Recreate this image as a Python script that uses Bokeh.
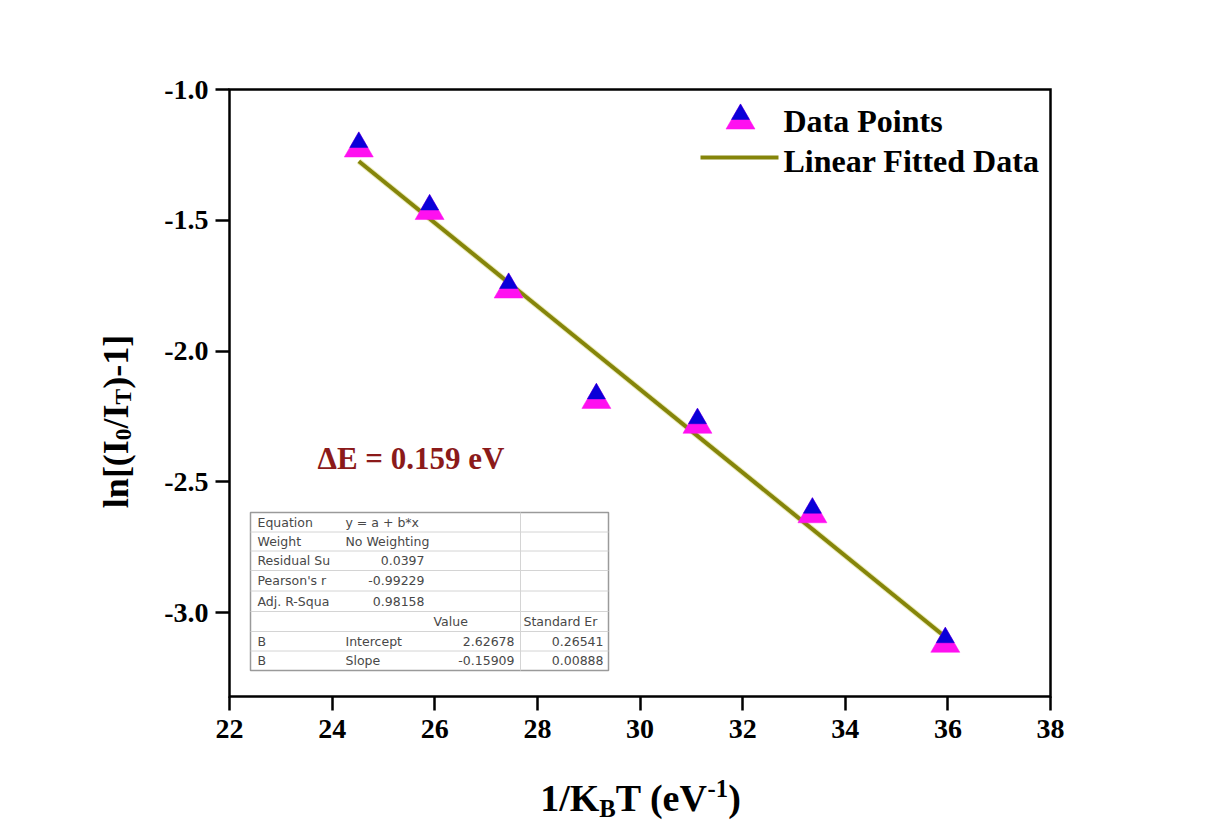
import math
from bokeh.plotting import figure
from bokeh.models import Label, Range1d, ColumnDataSource, FixedTicker
from bokeh.core.properties import value
from bokeh.embed import file_html
from bokeh.resources import INLINE

# ---- data -----------------------------------------------------------------
inv_kt = [24.52, 25.90, 27.44, 29.15, 31.12, 33.36, 35.95]          # 1/kBT (eV^-1)
ln_ratio = [-1.210, -1.449, -1.749, -2.171, -2.266, -2.608, -3.103]  # ln[(I0/IT)-1]
fit_intercept = 2.62678
fit_slope = -0.15909
delta_e = 0.159

x_ticks = [22, 24, 26, 28, 30, 32, 34, 36, 38]
y_ticks = [-3.0, -2.5, -2.0, -1.5, -1.0]

stat_names = ["Equation", "Weight", "Residual Su", "Pearson's r", "Adj. R-Squa"]
stat_values = ["y = a + b*x", "No Weighting", "0.0397", "-0.99229", "0.98158"]
param_rows = ["B", "B"]
param_names = ["Intercept", "Slope"]
param_values = ["2.62678", "-0.15909"]
param_errors = ["0.26541", "0.00888"]

# ---- geometry ---------------------------------------------------------------
W, H = 1211, 831
BOX_L, BOX_R, BOX_T, BOX_B = 229, 1050, 89, 696   # pixel edges of the axes box
X0, X1 = 22.0, 38.0
Y0, Y1 = -3.32, -1.0
SX = (X1 - X0) / (BOX_R - BOX_L)
SY = (Y1 - Y0) / (BOX_B - BOX_T)
XL, XR = X0 - BOX_L * SX, X1 + (W - BOX_R) * SX
YT, YB = Y1 + BOX_T * SY, Y0 - (H - BOX_B) * SY


def dx(px):
    return XL + px * SX


def dy(py):
    return YT - py * SY


# the frame covers the whole canvas; the axes sit at fixed data locations
p = figure(width=W, height=H, min_border=0,
           x_range=Range1d(XL, XR), y_range=Range1d(YB, YT),
           output_backend="svg", toolbar_location=None)

p.background_fill_color = "white"
p.border_fill_color = "white"
p.grid.visible = False
p.outline_line_color = None

SERIF = "Liberation Serif"
p.xaxis.fixed_location = Y0
p.yaxis.fixed_location = X0
p.xaxis.ticker = FixedTicker(ticks=x_ticks)
p.yaxis.ticker = FixedTicker(ticks=y_ticks)
for ax in (p.xaxis[0], p.yaxis[0]):
    ax.axis_line_color = None
    ax.major_tick_line_width = 2.5
    ax.major_tick_out = 14
    ax.major_tick_in = 0
    ax.minor_tick_out = 0
    ax.minor_tick_in = 0
    ax.major_label_text_font = SERIF
    ax.major_label_text_font_style = "bold"
    ax.major_label_text_font_size = "28px"
    ax.major_label_text_color = "black"
p.xaxis.major_label_standoff = 9
p.yaxis.major_label_standoff = 7
p.yaxis.major_label_overrides = {v: f"{v:.1f}" for v in y_ticks}

# axes box
p.quad(left=[X0], right=[X1], top=[Y1], bottom=[Y0], fill_color=None,
       line_color="black", line_width=2.5, line_join="miter")

# ---- statistics table -------------------------------------------------------
T_L, T_R, T_T, T_B = 250, 608, 512, 670
row_y = [522, 541, 560, 580, 601, 621, 641, 660]
p.quad(left=[dx(T_L)], right=[dx(T_R)], top=[dy(T_T)], bottom=[dy(T_B)],
       fill_color="white", line_color="#9a9a9a", line_width=1.5)
sep = [(row_y[i] + row_y[i + 1]) / 2 for i in range(len(row_y) - 1)]
p.segment(x0=[dx(T_L)] * len(sep), x1=[dx(T_R)] * len(sep),
          y0=[dy(s) for s in sep], y1=[dy(s) for s in sep],
          line_color="#d4d4d4", line_width=1)
p.segment(x0=[dx(520)], x1=[dx(520)], y0=[dy(T_T)], y1=[dy(T_B)],
          line_color="#d4d4d4", line_width=1)

TFONT = value("DejaVu Sans")
TCOL = "#484848"
TSIZE = "12.5px"


def table_text(xs, ys, texts, align):
    src = ColumnDataSource(dict(x=[dx(v) for v in xs], y=[dy(v) for v in ys], t=texts))
    p.text(x="x", y="y", text="t", source=src, text_font=TFONT, text_font_size=TSIZE,
           text_color=TCOL, text_align=align, text_baseline="middle")


table_text([257] * 7, row_y[:5] + row_y[6:], stat_names + param_rows, "left")
table_text([345, 345, 345, 345], [row_y[0], row_y[1], row_y[6], row_y[7]],
           stat_values[:2] + param_names, "left")
table_text([424] * 3, row_y[2:5], stat_values[2:], "right")
table_text([433, 523], [row_y[5]] * 2, ["Value", "Standard Er"], "left")
table_text([514] * 2, row_y[6:], param_values, "right")
table_text([603] * 2, row_y[6:], param_errors, "right")

# ---- fit line and data markers ---------------------------------------------
LINE_COL = "#85850a"
fit_x = [inv_kt[0], inv_kt[-1]]
fit_y = [fit_intercept + fit_slope * v for v in fit_x]
p.line(fit_x, fit_y, line_color="#d8d870", line_width=6, line_alpha=0.5)
p.line(fit_x, fit_y, line_color=LINE_COL, line_width=4)

TRI = 29
TRI_H = TRI / 2 * math.sqrt(3)
TRI_S = TRI * 0.62
TRI_SH = TRI_S / 2 * math.sqrt(3)
# Bokeh's triangle is anchored at its centroid; shift so the bounding box is centred
mag_shift = -(TRI_H / 6) * SY
blue_shift = (TRI_H / 2 - 2 * TRI_SH / 3) * SY


def two_tone(xs, ys):
    p.scatter(xs, [v + mag_shift for v in ys], marker="triangle", size=TRI,
              fill_color="#ff10f0", line_color="#ff10f0", line_width=0.5)
    p.scatter(xs, [v + blue_shift for v in ys], marker="triangle", size=TRI_S,
              fill_color="#0a00d8", line_color="#0a00d8", line_width=0.5)


two_tone(inv_kt, ln_ratio)

# ---- legend -----------------------------------------------------------------
two_tone([dx(740)], [dy(116)])
p.line([dx(700), dx(778)], [dy(157), dy(157)], line_color=LINE_COL, line_width=4)
for txt, py in (("Data Points", 120), ("Linear Fitted Data", 160)):
    p.add_layout(Label(x=dx(783), y=dy(py), text=txt, text_font=SERIF,
                       text_font_style="bold", text_font_size="32px",
                       text_color="black", text_align="left", text_baseline="middle"))

p.add_layout(Label(x=dx(317), y=dy(458), text=f"\u0394E = {delta_e} eV", text_font=SERIF,
                   text_font_style="bold", text_font_size="31px", text_color="#8b1a1a",
                   text_align="left", text_baseline="middle"))

# ---- axis titles built from pieces (sub/superscripts) -----------------------
TNR_B = {" ": 250, "(": 333, ")": 333, "-": 333, ".": 250, "/": 278, "=": 570,
         "B": 667, "I": 389, "K": 778, "T": 667, "V": 722, "[": 333, "]": 333,
         "e": 444, "l": 278, "n": 556}


def piece_width(s, size):
    return sum(TNR_B.get(c, 500) for c in s) / 1000 * size


def compose(pieces, cx, cy, size, vertical=False, sub=0.3, sup=0.25, small=0.65):
    fs_small = size * small
    total = sum(piece_width(t, fs_small if k != "n" else size) for t, k in pieces)
    pos = -total / 2
    for t, k in pieces:
        fs = size if k == "n" else fs_small
        rise = 0 if k == "n" else (-sub * size if k == "sub" else sup * size)
        if vertical:
            px, py, ang = cx - rise, cy - pos, math.pi / 2
        else:
            px, py, ang = cx + pos, cy - rise, 0
        p.add_layout(Label(x=dx(px), y=dy(py), text=t, angle=ang, text_font=SERIF,
                           text_font_style="bold", text_font_size=f"{fs:.1f}px",
                           text_color="black", text_align="left",
                           text_baseline="alphabetic"))
        pos += piece_width(t, fs)


compose([("1/K", "n"), ("B", "sub"), ("T (eV", "n"), ("-1", "sup"), (")", "n")],
        640, 797, 38)
compose([("ln[(I", "n"), ("0", "sub"), ("/I", "n"), ("T", "sub"), (")-1]", "n")],
        115, 421, 36, vertical=True, sub=0.22)

open("out.html", "w").write(file_html(p, INLINE))
